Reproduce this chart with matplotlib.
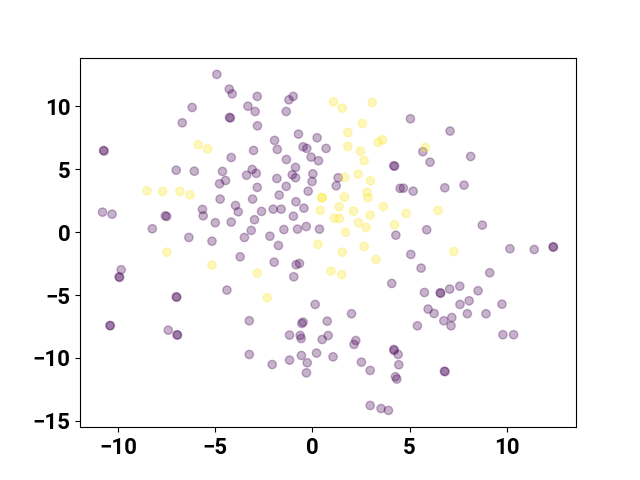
import matplotlib
matplotlib.use("Agg")
import matplotlib.pyplot as plt
import numpy as np

purple = [
    (-4.92, 12.55), (-4.28, 11.38), (-4.13, 11.00), (-3.32, 10.02), (-6.19, 9.92),
    (-4.27, 9.13), (-4.22, 9.08), (-6.70, 8.70), (-10.75, 6.50), (-10.72, 6.45),
    (-4.18, 5.94), (-7.01, 4.93), (-6.08, 4.85), (-4.63, 4.83), (-3.39, 4.53),
    (-4.47, 4.11), (-4.78, 3.85), (-4.75, 2.63), (-3.96, 2.12), (-3.82, 1.62),
    (-5.66, 1.81), (-5.62, 1.30), (-10.80, 1.59), (-10.31, 1.43), (-7.57, 1.30),
    (-7.50, 1.25), (-5.00, 0.75), (-4.18, 0.80), (-8.24, 0.27), (-6.36, -0.42),
    (-5.17, -0.72), (-3.50, -0.42), (-3.08, 2.63), (-2.84, 10.80), (-2.95, 9.60),
    (-1.21, 10.53), (-0.99, 10.80), (-1.35, 9.60), (-2.83, 8.46), (5.04, 9.02),
    (-0.72, 7.80), (0.24, 7.51), (-1.95, 7.30), (-3.03, 6.50), (-1.81, 6.58),
    (-0.48, 6.79), (-0.29, 6.66), (0.70, 6.66), (-0.07, 5.97), (0.31, 5.68),
    (-1.34, 5.78), (-0.87, 5.15), (-3.10, 4.99), (-2.89, 4.68), (-1.83, 4.27),
    (-1.04, 4.57), (-0.87, 4.33), (0.02, 4.64), (4.18, 5.28), (4.23, 5.25),
    (1.32, 4.33), (1.22, 3.69), (-2.84, 3.56), (-1.35, 3.64), (-0.02, 4.03),
    (-0.22, 3.26), (-1.71, 2.95), (4.51, 3.48), (4.68, 3.50), (5.18, 3.26),
    (-0.85, 2.42), (-0.44, 1.91), (-2.02, 1.83), (-1.61, 1.83), (-2.62, 1.65),
    (-0.98, 1.27), (-2.98, 0.99), (-3.15, 0.14), (-1.47, 0.21), (-0.77, 0.24),
    (-0.32, 0.45), (0.36, 0.24), (-2.19, -0.32), (-1.75, -1.06), (4.29, -0.24),
    (7.08, 8.04), (5.68, 6.40), (6.05, 5.57), (8.14, 6.02), (6.81, 3.53),
    (7.80, 3.74), (5.88, 0.19), (8.74, 0.56), (12.38, -1.16), (12.40, -1.20),
    (-3.72, -1.96), (-9.84, -2.99), (-9.95, -3.55), (-9.92, -3.60), (-7.01, -5.14),
    (-6.98, -5.18), (-4.40, -4.61), (-10.42, -7.42), (-10.40, -7.45), (-7.42, -7.80),
    (-6.97, -8.16), (-6.94, -8.19), (-3.25, -7.05), (-3.25, -9.73), (5.06, -1.77),
    (-1.97, -2.39), (-0.84, -2.59), (-0.67, -2.49), (-0.96, -3.55), (4.08, -4.08),
    (0.14, -5.75), (2.01, -6.49), (-0.55, -7.26), (-0.48, -7.16), (0.76, -7.08),
    (-1.18, -8.19), (-0.63, -8.22), (-0.58, -8.46), (0.50, -8.54), (0.81, -8.22),
    (2.23, -8.62), (2.14, -8.93), (4.19, -9.33), (4.20, -9.41), (4.41, -9.73),
    (-2.07, -10.53), (-1.18, -10.18), (-0.57, -9.81), (-0.27, -10.39), (-0.31, -11.19),
    (0.21, -9.62), (1.06, -9.92), (2.52, -10.34), (2.97, -11.00), (4.44, -10.55),
    (4.27, -11.50), (4.34, -11.69), (2.97, -13.79), (3.53, -14.03), (3.91, -14.18),
    (10.16, -1.32), (11.41, -1.38), (5.59, -2.86), (9.12, -3.23), (5.76, -4.80),
    (6.57, -4.82), (6.60, -4.86), (7.06, -4.53), (7.58, -4.30), (8.52, -4.66),
    (7.59, -5.75), (8.06, -5.46), (9.75, -5.73), (5.95, -6.12), (6.26, -6.47),
    (6.76, -7.05), (7.17, -6.79), (7.13, -7.45), (7.97, -6.49), (8.93, -6.49),
    (5.40, -7.45), (9.80, -8.16), (10.35, -8.16), (6.79, -11.06), (6.82, -11.10),
]

yellow = [
    (-5.88, 6.95), (-5.40, 6.63), (-8.51, 3.29), (-7.71, 3.24), (-6.82, 3.24),
    (-6.30, 2.97), (1.08, 10.37), (1.53, 9.87), (3.08, 10.32), (1.82, 7.93),
    (2.57, 8.65), (3.38, 7.14), (3.60, 7.35), (1.82, 6.82), (2.47, 6.44),
    (2.66, 5.70), (2.35, 4.62), (1.66, 4.35), (2.98, 4.09), (0.48, 2.76),
    (0.50, 2.72), (1.65, 2.79), (2.81, 3.16), (2.85, 2.74), (0.40, 1.73),
    (1.37, 2.02), (2.11, 1.67), (2.97, 1.35), (3.65, 2.04), (4.82, 1.49),
    (1.12, 1.11), (1.39, 1.09), (2.37, 0.75), (2.76, 0.37), (4.22, 0.59),
    (1.70, 0.00), (0.28, -0.98), (2.66, -1.14), (5.81, 6.74), (6.46, 1.73),
    (-7.49, -1.59), (-5.17, -2.62), (1.53, -1.59), (3.27, -2.17), (-2.84, -3.26),
    (0.95, -3.10), (1.51, -3.37), (-2.33, -5.22), (7.27, -1.54),
]

x = [p[0] for p in purple] + [p[0] for p in yellow]
y = [p[1] for p in purple] + [p[1] for p in yellow]
labels = [0] * len(purple) + [1] * len(yellow)

plt.rcParams['font.family'] = ['Roboto', 'DejaVu Sans']
fig, ax = plt.subplots(figsize=(6.4, 4.8), dpi=100)
ax.scatter(x, y, c=labels, cmap='viridis', alpha=0.3)
ax.tick_params(labelsize=16)
for lab in ax.get_xticklabels() + ax.get_yticklabels():
    lab.set_fontweight('bold')
fig.savefig("out.png", dpi=100)
